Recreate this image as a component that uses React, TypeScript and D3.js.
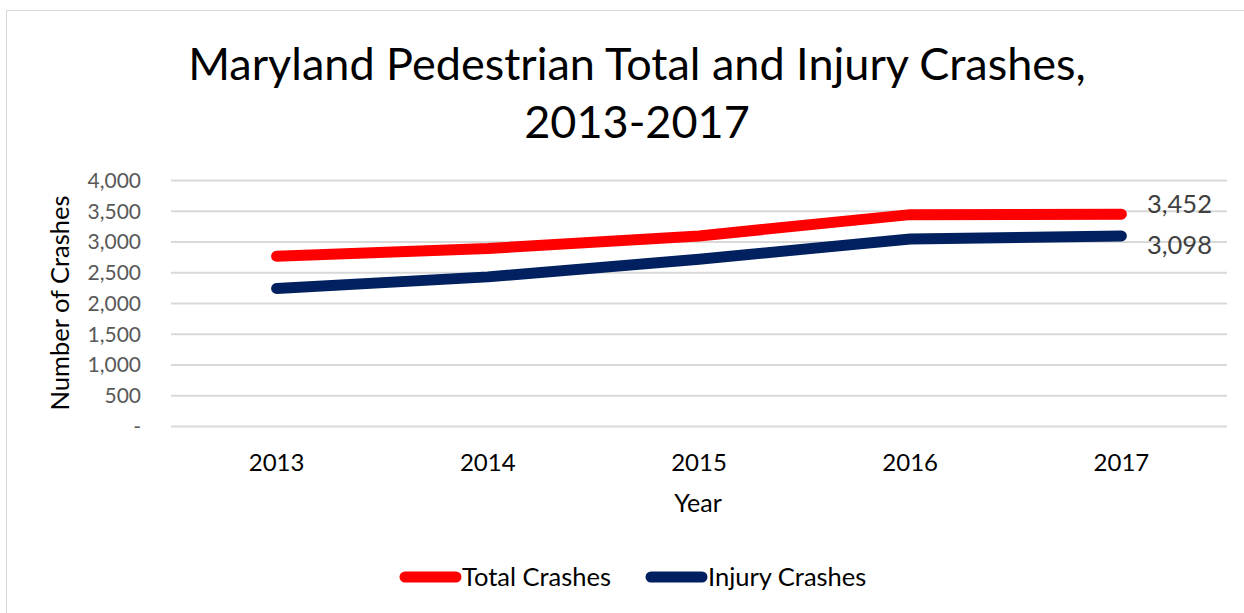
import React from 'react';
import * as d3 from 'd3';

const years = ['2013', '2014', '2015', '2016', '2017'];
const totalCrashes = [2769, 2894, 3099, 3445, 3452];
const injuryCrashes = [2244, 2433, 2720, 3050, 3098];
const yTicks = [0, 500, 1000, 1500, 2000, 2500, 3000, 3500, 4000];

const W = 1244, H = 613;
const FONT = 'Lato, "Open Sans", sans-serif';

export default function App() {
  const x = d3.scaleBand().domain(years).range([171, 1227]);
  const y = d3.scaleLinear().domain([0, 4000]).range([426.5, 180.5]);
  const cx = (d: string) => (x(d) as number) + x.bandwidth() / 2;

  const line = d3.line<number>()
    .x((d, i) => cx(years[i]))
    .y(d => y(d));

  const series = [
    { name: 'Total Crashes', values: totalCrashes, color: '#ff0000', dy: -1 },
    { name: 'Injury Crashes', values: injuryCrashes, color: '#002060', dy: 18 },
  ];
  const fmt = d3.format(',');
  const last = years.length - 1;

  return (
    <svg width={W} height={H} style={{ position: 'absolute', left: 0, top: 0 }} fontFamily={FONT}>
      <rect x={6.5} y={10.5} width={W + 10} height={H + 10} fill="#fff" stroke="#d9d9d9" strokeWidth={1} />

      <text x={637} y={80} textAnchor="middle" fontSize={45} fill="#000">Maryland Pedestrian Total and Injury Crashes,</text>
      <text x={637} y={138} textAnchor="middle" fontSize={45} fill="#000">2013-2017</text>

      {yTicks.map(t => (
        <g key={t}>
          <line x1={171} x2={1227} y1={y(t)} y2={y(t)} stroke="#d9d9d9" strokeWidth={2} />
          <text x={141} y={y(t)} dy="0.35em" textAnchor="end" fontSize={21} fill="#595959">
            {t === 0 ? '-' : fmt(t)}
          </text>
        </g>
      ))}

      {years.map(d => (
        <text key={d} x={cx(d)} y={471} textAnchor="middle" fontSize={24} fill="#000">{d}</text>
      ))}
      <text x={698} y={512} textAnchor="middle" fontSize={25} fill="#000">Year</text>
      <text transform="translate(69,303) rotate(-90)" textAnchor="middle" fontSize={25.5} fill="#000">Number of Crashes</text>

      {series.map(s => (
        <g key={s.name}>
          <path d={line(s.values) as string} fill="none" stroke={s.color} strokeWidth={11}
            strokeLinecap="round" strokeLinejoin="round" />
          <text x={1147} y={y(s.values[last]) + s.dy} fontSize={25.5} fill="#404040">{fmt(s.values[last])}</text>
        </g>
      ))}

      <line x1={405} x2={456} y1={577} y2={577} stroke="#ff0000" strokeWidth={11} strokeLinecap="round" />
      <text x={462} y={586} fontSize={25.5} fill="#000">Total Crashes</text>
      <line x1={651} x2={702} y1={577} y2={577} stroke="#002060" strokeWidth={11} strokeLinecap="round" />
      <text x={708} y={586} fontSize={25.5} fill="#000">Injury Crashes</text>
    </svg>
  );
}
